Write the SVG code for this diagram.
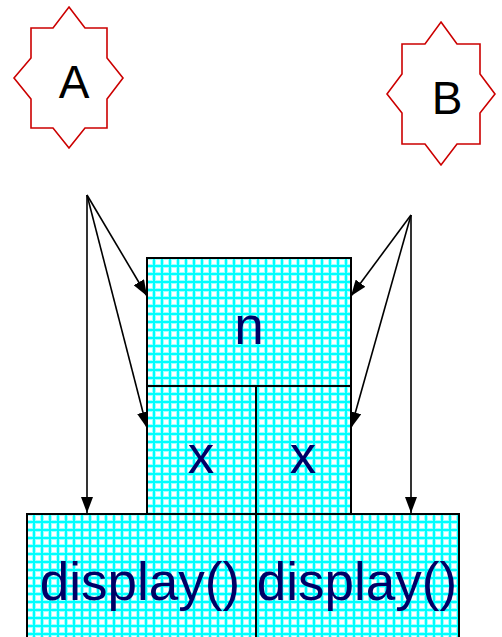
<svg xmlns="http://www.w3.org/2000/svg" width="502" height="637" viewBox="0 0 502 637">
<style>
.star{fill:#ffffff;stroke:#cc0000;stroke-width:1.6}
.lbl{font-family:"Liberation Sans",Arial,sans-serif;font-size:46px;fill:#000000;text-anchor:middle}
.box{fill:url(#grid);stroke:#000000;stroke-width:2}
.txt{font-family:"Liberation Sans",Arial,sans-serif;font-size:53px;fill:#000066}
.con{stroke:#000000;stroke-width:1.6;fill:none;marker-end:url(#ah)}
</style>
<defs>
<pattern id="grid" x="0" y="0" width="8" height="8" patternUnits="userSpaceOnUse">
<rect width="8" height="8" fill="#ffffff"/>
<path d="M0 2H8M2 0V8" stroke="#a0ffff" stroke-width="4"/>
<path d="M0 2H8M2 0V8" stroke="#00ffff" stroke-width="2"/>
</pattern>
<marker id="ah" markerWidth="16" markerHeight="12" refX="16" refY="6" orient="auto" markerUnits="userSpaceOnUse">
<path d="M0 0L16 6L0 12Z" fill="#000000"/>
</marker>
</defs>
<g id="connectors">
<line class="con" x1="87" y1="195" x2="87" y2="513"/>
<line class="con" x1="87" y1="195" x2="147" y2="296"/>
<line class="con" x1="87" y1="195" x2="147" y2="428"/>
<line class="con" x1="411" y1="215" x2="411" y2="513"/>
<line class="con" x1="411" y1="215" x2="351" y2="296"/>
<line class="con" x1="411" y1="215" x2="351" y2="428"/>
</g>
<g id="A">
<polygon class="star" points="69,7 85,28 107,28 107,58 123,78 107,99 107,128 85,128 69,148 53,128 31,128 31,99 14,78 31,58 31,28 53,28"/>
<text class="lbl" x="74" y="98">A</text>
</g>
<g id="B">
<polygon class="star" points="441,22 457,44 480,44 480,74 495,94 480,113 480,144 457,144 441,165 425,144 402,144 402,113 387,94 402,74 402,44 425,44"/>
<text class="lbl" x="447" y="114">B</text>
</g>
<g id="n">
<rect class="box" x="147" y="258" width="204" height="128"/>
<text class="txt" x="249" y="344" text-anchor="middle">n</text>
</g>
<g id="x1">
<rect class="box" x="147" y="386" width="109" height="128"/>
<text class="txt" x="201" y="473" text-anchor="middle">x</text>
</g>
<g id="x2">
<rect class="box" x="256" y="386" width="95" height="128"/>
<text class="txt" x="303" y="473" text-anchor="middle">x</text>
</g>
<g id="display1">
<rect class="box" x="27" y="514" width="229" height="130"/>
<text class="txt" x="140" y="600" text-anchor="middle">display()</text>
</g>
<g id="display2">
<rect class="box" x="256" y="514" width="203" height="130"/>
<text class="txt" x="357" y="600" text-anchor="middle">display()</text>
</g>
</svg>
